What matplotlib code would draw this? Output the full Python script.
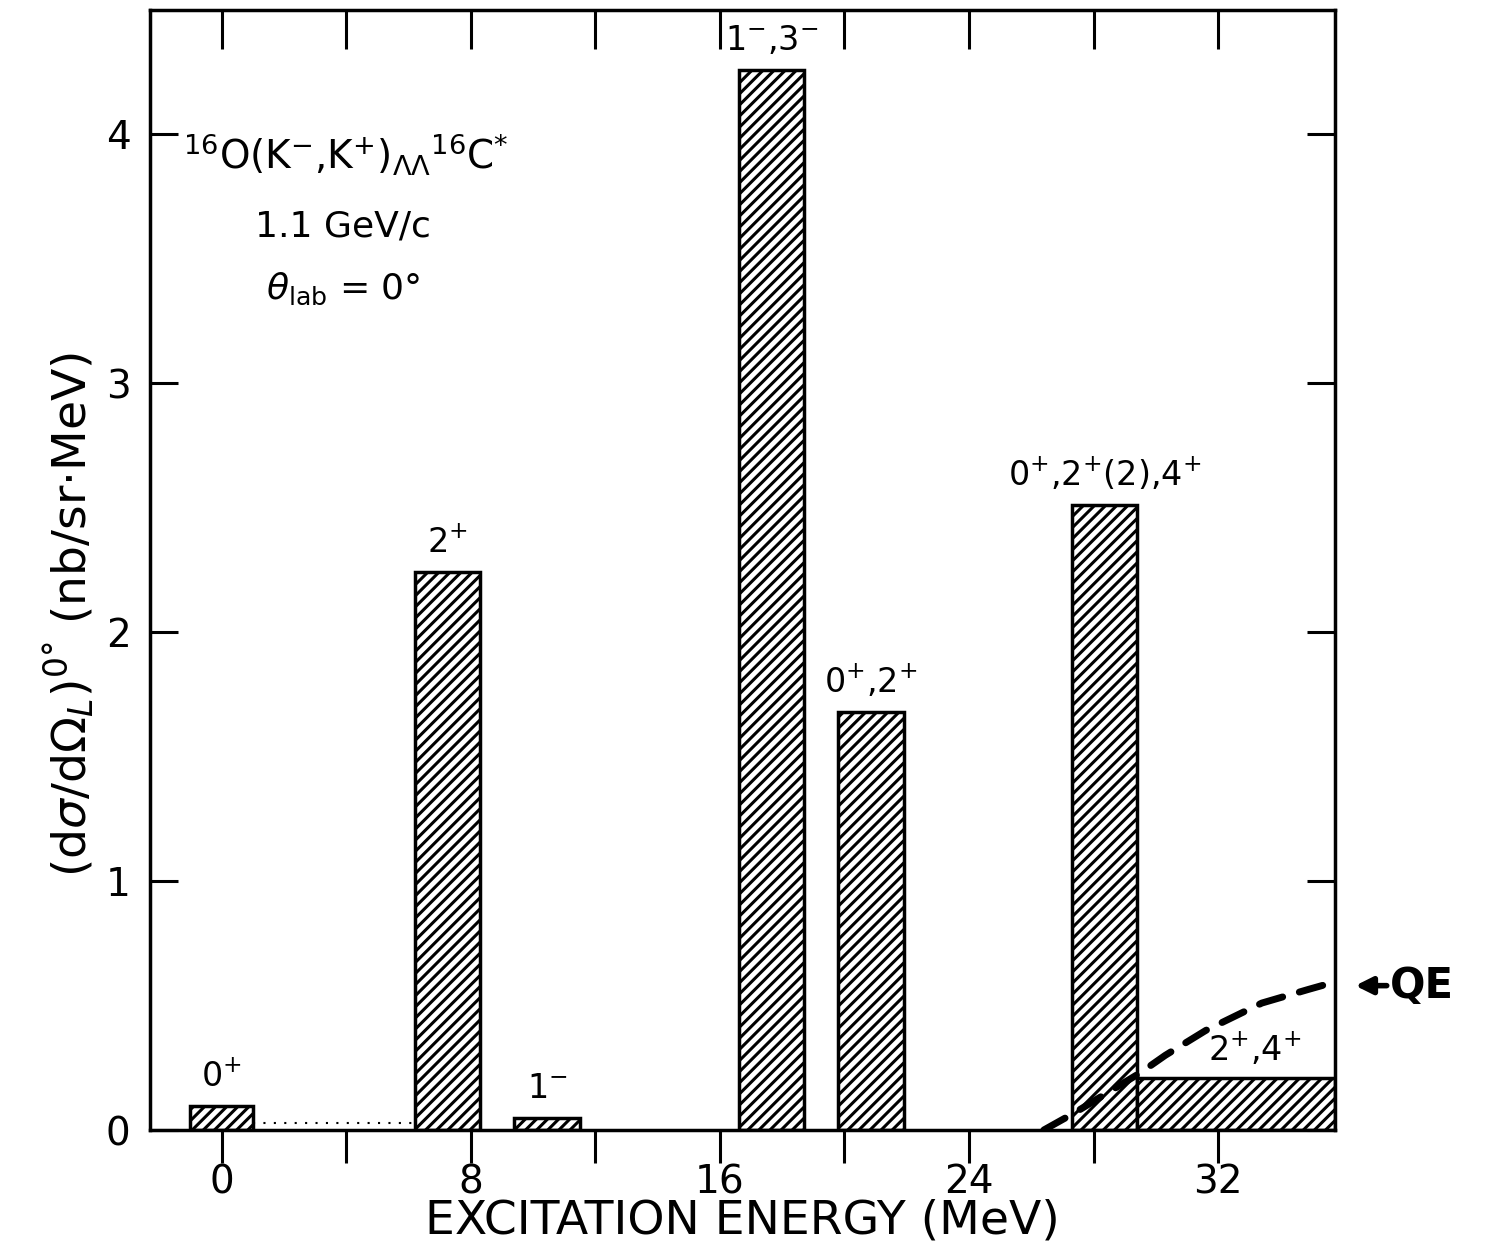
import matplotlib
matplotlib.use("Agg")
import matplotlib.pyplot as plt

plt.rcParams['font.family'] = ['DejaVu Sans']
plt.rcParams['hatch.linewidth'] = 2.2
plt.rcParams['mathtext.fontset'] = 'dejavusans'

# ---- data ----
bar_left = [-1.0, 6.2, 9.4, 16.6, 19.8, 27.3, 29.4]
bar_right = [1.0, 8.3, 11.5, 18.7, 21.9, 29.4, 35.75]
bar_height = [0.095, 2.24, 0.05, 4.26, 1.68, 2.51, 0.21]
bar_labels = [r"0$^{+}$", r"2$^{+}$", r"1$^{-}$", r"1$^{-}$,3$^{-}$",
              r"0$^{+}$,2$^{+}$", r"0$^{+}$,2$^{+}$(2),4$^{+}$", r"2$^{+}$,4$^{+}$"]

cont_x = [1.0, 6.2]
cont_y = [0.03, 0.03]

qe_x = [26.4, 27.4, 29.5, 30.3, 31.6, 33.4, 34.9, 35.75]
qe_y = [0.0, 0.07, 0.23, 0.30, 0.40, 0.51, 0.565, 0.595]

xticks = [0, 4, 8, 12, 16, 20, 24, 28, 32]
xticklabels = ["0", "", "8", "", "16", "", "24", "", "32"]
yticks = [0, 1, 2, 3, 4]

fig = plt.figure(figsize=(14.88, 12.47), dpi=100)
ax = fig.add_axes([150/1488, 1 - 1130/1247, (1335-150)/1488, (1130-10)/1247])

for l, r, h in zip(bar_left, bar_right, bar_height):
    ax.bar(l, h, width=r - l, align='edge', facecolor='white',
           edgecolor='black', linewidth=2.5, hatch='///', zorder=2)

# label placement
label_x_off = [0, 0, 0, 0, 0, 0, 0.6]
label_y = [h + 0.05 for h in bar_height]
label_y[6] = 0.25
for l, r, h, lab, dx, y in zip(bar_left, bar_right, bar_height, bar_labels, label_x_off, label_y):
    ax.text((l + r) / 2 + dx, y, lab, ha='center', va='bottom', fontsize=24)

ax.plot(cont_x, cont_y, linestyle=(0, (1, 4)), color='black', linewidth=1.5, zorder=3)
ax.plot(qe_x, qe_y, color='black', linewidth=5, dashes=(3.5, 2.5), zorder=4,
        solid_capstyle='round', dash_capstyle='round')

ax.annotate("QE", xy=(36.4, 0.58), xytext=(37.5, 0.58), fontsize=30, fontweight='bold',
            va='center', ha='left', annotation_clip=False,
            arrowprops=dict(arrowstyle='-|>', color='black', lw=4, mutation_scale=25,
                            shrinkA=0, shrinkB=0))

ax.text(4.0, 3.92, r"$^{16}$O(K$^{-}$,K$^{+}$)$_{\Lambda\Lambda}$$^{16}$C$^{*}$",
        ha='center', va='center', fontsize=28)
ax.text(3.9, 3.63, "1.1 GeV/c", ha='center', va='center', fontsize=26)
ax.text(3.9, 3.38, r"$\theta_{\rm lab}$ = 0°", ha='center', va='center', fontsize=26)

ax.set_xlim(-2.3, 35.75)
ax.set_ylim(0, 4.5)

ax.set_xticks(xticks)
ax.set_xticklabels(xticklabels, fontsize=28)
ax.set_yticks(yticks)
ax.set_yticklabels([str(v) for v in yticks], fontsize=28)

ax.tick_params(axis='x', which='major', direction='out', length=24, width=2.2,
               top=True, pad=0)
ax.tick_params(axis='y', which='major', direction='in', length=20, width=2.2,
               right=True, pad=14)
for t in ax.xaxis.get_major_ticks():
    t.tick2line.set_marker(3)  # TICKDOWN (inward at top)
    t.tick2line.set_markersize(28)

for s in ax.spines.values():
    s.set_linewidth(2.5)

ax.set_xlabel("EXCITATION ENERGY (MeV)", fontsize=34, labelpad=-2)
ax.set_ylabel(r"(d$\sigma$/d$\Omega_{L}$)$^{0°}$ (nb/sr$\cdot$MeV)", fontsize=34)
ax.yaxis.set_label_coords(-0.045, 0.46)

fig.savefig("out.png", dpi=100)
